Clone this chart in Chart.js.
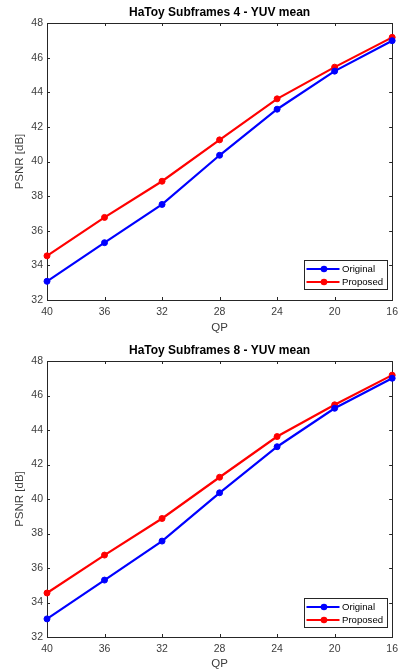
<!DOCTYPE html>
<html>
<head>
<meta charset="utf-8">
<script src="https://cdn.jsdelivr.net/npm/chart.js@4.4.0/dist/chart.umd.min.js"></script>
<style>
  html, body { margin: 0; padding: 0; background: #fff; }
  canvas { display: block; }
</style>
</head>
<body>
<canvas id="chartTop" width="404" height="335"></canvas>
<canvas id="chartBottom" width="404" height="336"></canvas>
<script>
const qpLabels = ["40", "36", "32", "28", "24", "20", "16"];
const seriesNames = ["Original", "Proposed"];

// Subframes 4
const original4 = [33.08, 35.31, 37.52, 40.36, 43.02, 45.22, 46.98];
const proposed4 = [34.55, 36.77, 38.86, 41.25, 43.62, 45.45, 47.17];

// Subframes 8
const original8 = [33.05, 35.3, 37.56, 40.36, 43.03, 45.26, 47.0];
const proposed8 = [34.55, 36.75, 38.87, 41.26, 43.62, 45.46, 47.18];

const FONT = "'Liberation Sans', Arial, sans-serif";
const TEXT = "#3c3c3c";
const AXIS = "#262626";

// matlab-like box, inward ticks, title over the axes and legend in the corner
const matlabAxes = {
  id: "matlabAxes",
  beforeDatasetsDraw(chart) {
    const { ctx, chartArea: a, scales } = chart;
    ctx.save();
    ctx.strokeStyle = AXIS;
    ctx.lineWidth = 1;
    ctx.beginPath();
    scales.x.ticks.forEach((t, i) => {
      const px = Math.round(scales.x.getPixelForTick(i)) + 0.5;
      ctx.moveTo(px, a.bottom); ctx.lineTo(px, a.bottom - 3);
      ctx.moveTo(px, a.top); ctx.lineTo(px, a.top + 3);
    });
    scales.y.ticks.forEach((t) => {
      const py = Math.round(scales.y.getPixelForValue(t.value)) + 0.5;
      ctx.moveTo(a.left, py); ctx.lineTo(a.left + 3, py);
      ctx.moveTo(a.right, py); ctx.lineTo(a.right - 3, py);
    });
    ctx.stroke();
    ctx.strokeRect(Math.round(a.left) + 0.5, Math.round(a.top) + 0.5,
      Math.round(a.right - a.left), Math.round(a.bottom - a.top));
    ctx.restore();
  },
  afterDraw(chart, args, opts) {
    const { ctx, chartArea: a } = chart;
    ctx.save();
    ctx.fillStyle = "#000";
    ctx.font = "bold 12px " + FONT;
    ctx.textAlign = "center";
    ctx.textBaseline = "middle";
    ctx.fillText(opts.title, (a.left + a.right) / 2, a.top - 10);

    // legend
    const bx = 304.5, by = a.top + opts.legendTop + 0.5, bw = 83, bh = 29;
    ctx.fillStyle = "#fff";
    ctx.fillRect(bx, by, bw, bh);
    ctx.strokeStyle = AXIS;
    ctx.strokeRect(bx, by, bw, bh);
    ctx.font = "9.6px " + FONT;
    ctx.textAlign = "left";
    chart.data.datasets.forEach((ds, i) => {
      const y = by + 8.5 + i * 13;
      ctx.strokeStyle = ds.borderColor;
      ctx.lineWidth = 2;
      ctx.beginPath();
      ctx.moveTo(bx + 2, y); ctx.lineTo(bx + 35, y);
      ctx.stroke();
      ctx.fillStyle = ds.borderColor;
      ctx.beginPath();
      ctx.arc(bx + 19.5, y, 3.3, 0, Math.PI * 2);
      ctx.fill();
      ctx.fillStyle = "#000";
      ctx.fillText(ds.label, bx + 37.5, y + 0.5);
    });
    ctx.restore();
  }
};

const makeChart = (id, title, orig, prop, top, xHeight) => {
  const ctx = document.getElementById(id).getContext("2d");
  return new Chart(ctx, {
    type: "line",
    data: {
      labels: qpLabels,
      datasets: [
        {
          label: seriesNames[0],
          data: orig,
          borderColor: "#0000ff",
          backgroundColor: "#0000ff",
          borderWidth: 2.2,
          pointRadius: 3,
          pointBorderWidth: 1,
          clip: false,
        },
        {
          label: seriesNames[1],
          data: prop,
          borderColor: "#ff0000",
          backgroundColor: "#ff0000",
          borderWidth: 2.2,
          pointRadius: 3,
          pointBorderWidth: 1,
          clip: false,
        },
      ],
    },
    options: {
      responsive: false,
      animation: false,
      layout: { padding: { top: top, right: 6, left: 0, bottom: 0 } },
      scales: {
        x: {
          type: "category",
          offset: false,
          grid: { display: false, drawTicks: false, tickLength: 0 },
          border: { display: false },
          ticks: { color: TEXT, font: { family: FONT, size: 10.5 }, padding: 6, maxRotation: 0 },
          title: { display: true, text: "QP", color: TEXT, font: { family: FONT, size: 11.5 }, padding: { top: 0, bottom: 0 } },
          afterFit: (s) => { s.height = xHeight; },
        },
        y: {
          min: 32,
          max: 48,
          ticks: { stepSize: 2, color: TEXT, font: { family: FONT, size: 10.5 }, padding: 4 },
          grid: { display: false, drawTicks: false, tickLength: 0 },
          border: { display: false },
          title: { display: true, text: "PSNR [dB]", color: TEXT, font: { family: FONT, size: 11.5 }, padding: { top: 13, bottom: 0 } },
          afterFit: (s) => { s.width = 47; },
        },
      },
      plugins: {
        legend: { display: false },
        tooltip: { enabled: false },
        matlabAxes: { title: title, legendTop: 237 },
      },
    },
    plugins: [matlabAxes],
  });
};

makeChart("chartTop", "HaToy Subframes 4 - YUV mean", original4, proposed4, 23, 35);
makeChart("chartBottom", "HaToy Subframes 8 - YUV mean", original8, proposed8, 26, 34);
</script>
</body>
</html>
